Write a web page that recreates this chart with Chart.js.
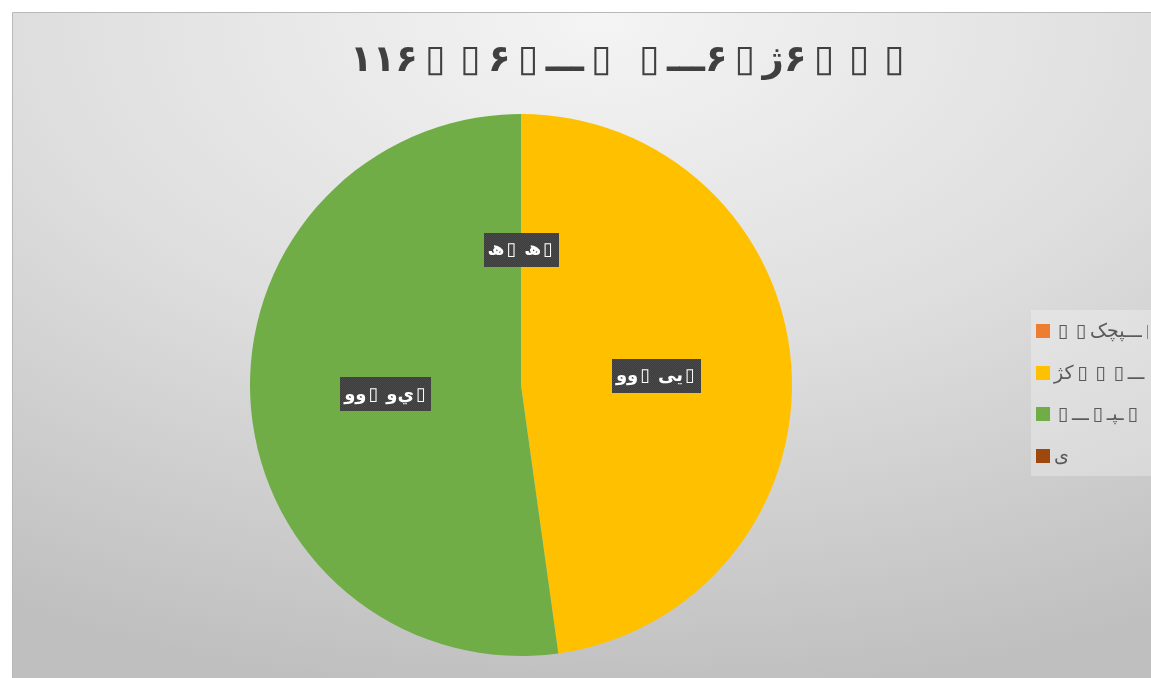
<!DOCTYPE html>
<html>
<head>
<meta charset="utf-8">
<title>Pie</title>
<script src="https://cdn.jsdelivr.net/npm/chart.js@4.4.1/dist/chart.umd.min.js"></script>
<style>
    html, body { margin: 0; padding: 0; background: #ffffff; }
    #wrap { position: relative; width: 1151px; height: 678px; }
</style>
</head>
<body>
<div id="wrap"><canvas id="pieChart" width="1151" height="678"></canvas></div>
<script>
// ----------------------------- Data -----------------------------------------
// text is kept the way it shows on the chart (▯ = glyph the font lacks)
const chartTitle = "۱۱۶▯▯۶▯ـــ\u200E▯ ▯ـــ\u200E۶▯ژ\u200E۶▯▯▯";
const seriesNames = [
    "▯▯ـــپچک\u200E▯",
    "کژ\u200E▯▯▯ـــ\u200E▯",
    "▯ـــ\u200E▯ـپـ\u200E▯",
    "ی",
];
const shares = [0, 47.8, 52.2, 0];
const sliceLabels = [
    "ھ\u200E▯ ھ\u200E▯",
    "وو\u200E▯ یی\u200E▯",
    "وو\u200E▯ ي\u200Cو\u200E▯",
    "ھ\u200E▯ ھ\u200E▯",
];
const sliceColors = ["#ED7D31", "#FFC000", "#70AD47", "#9E480E"];

// missing glyphs get a little air on both sides, like the tofu in the original
const show = (s, gap = "\u2009") => s.replace(/▯/g, gap + "▯" + gap);

// ----------------------------- Plugins --------------------------------------
const FONT = '"DejaVu Sans", sans-serif';

const frameBackground = {
    id: "frameBackground",
    beforeDraw(chart) {
        const c = chart.ctx;
        c.save();
        // elliptical light gradient, brightest at top centre
        c.translate(600, 20);
        c.scale(1.7, 1);
        const g = c.createRadialGradient(0, 0, 0, 0, 0, 680);
        g.addColorStop(0, "#f4f4f4");
        g.addColorStop(0.5, "#dedede");
        g.addColorStop(1, "#bfbfbf");
        c.fillStyle = g;
        c.fillRect(-600 / 1.7, -20, 1200 / 1.7, 700);
        c.restore();
        c.save();
        c.fillStyle = "#ffffff";
        c.fillRect(0, 0, 1151, 12);
        c.fillRect(0, 0, 12, 678);
        c.strokeStyle = "#b8b8b8";
        c.lineWidth = 1;
        c.beginPath();
        c.moveTo(12.5, 678);
        c.lineTo(12.5, 12.5);
        c.lineTo(1151, 12.5);
        c.stroke();
        c.restore();
    },
};

const titleText = {
    id: "titleText",
    afterDraw(chart) {
        const c = chart.ctx;
        c.save();
        c.font = "bold 37px " + FONT;
        c.fillStyle = "#404040";
        c.textAlign = "center";
        c.textBaseline = "middle";
        c.fillText(show(chartTitle), 631, 61);
        c.restore();
    },
};

let labelPattern = null;
function getLabelPattern(c) {
    if (labelPattern) return labelPattern;
    const p = document.createElement("canvas");
    p.width = 2;
    p.height = 2;
    const pc = p.getContext("2d");
    pc.fillStyle = "#3c3c3c";
    pc.fillRect(0, 0, 2, 2);
    pc.fillStyle = "#4a4a4a";
    pc.fillRect(0, 0, 1, 1);
    pc.fillRect(1, 1, 1, 1);
    labelPattern = c.createPattern(p, "repeat");
    return labelPattern;
}

const sliceLabelPlugin = {
    id: "sliceLabelPlugin",
    afterDatasetsDraw(chart) {
        const c = chart.ctx;
        const arcs = chart.getDatasetMeta(0).data;
        c.save();
        c.font = "bold 18px " + FONT;
        c.textAlign = "center";
        c.textBaseline = "middle";
        arcs.forEach((arc, i) => {
            const pt = arc.getCenterPoint();
            const txt = show(sliceLabels[i], "\u200A");
            const w = c.measureText(txt).width + 8;
            const h = 34;
            c.fillStyle = getLabelPattern(c);
            c.fillRect(Math.round(pt.x - w / 2), Math.round(pt.y - h / 2), Math.round(w), h);
            c.fillStyle = "#ffffff";
            c.fillText(txt, pt.x, pt.y + 1);
        });
        c.restore();
    },
};

const sideLegend = {
    id: "sideLegend",
    afterDraw(chart) {
        const c = chart.ctx;
        c.save();
        c.fillStyle = "rgba(255,255,255,0.28)";
        c.fillRect(1031, 310, 120, 166);
        c.beginPath();
        c.rect(1031, 310, 117, 166);
        c.clip();
        c.font = "19px " + FONT;
        c.textBaseline = "middle";
        c.textAlign = "left";
        seriesNames.forEach((name, i) => {
            const y = 331 + i * 41.7;
            c.fillStyle = sliceColors[i];
            c.fillRect(1036, Math.round(y - 7), 14, 14);
            c.fillStyle = "#595959";
            c.fillText(show(name), 1054, y + 1);
        });
        c.restore();
    },
};

// ----------------------------- Chart ----------------------------------------
document.addEventListener("DOMContentLoaded", function () {
    const ctx = document.getElementById("pieChart");
    new Chart(ctx, {
        type: "pie",
        data: {
            labels: seriesNames,
            datasets: [
                {
                    data: shares,
                    backgroundColor: sliceColors,
                    borderWidth: 0,
                    hoverOffset: 0,
                },
            ],
        },
        options: {
            responsive: false,
            animation: false,
            layout: { padding: { top: 114, bottom: 22, left: 250, right: 359 } },
            plugins: {
                legend: { display: false },
                title: { display: false },
                tooltip: { enabled: false },
            },
        },
        plugins: [frameBackground, titleText, sliceLabelPlugin, sideLegend],
    });
});
</script>
</body>
</html>
